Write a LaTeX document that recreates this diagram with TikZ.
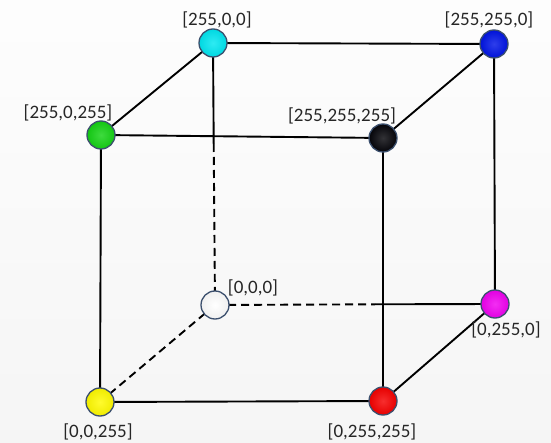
\documentclass[tikz,border=0pt]{standalone}
\usepackage{fontspec}
\setmainfont{Carlito}
\usetikzlibrary{calc}
\definecolor{rimcol}{RGB}{60,80,110}
\definecolor{bgA}{RGB}{252,252,252}
\definecolor{bgB}{RGB}{236,236,236}
\definecolor{cy}{RGB}{0,230,240}
\definecolor{bl}{RGB}{0,20,230}
\definecolor{gr}{RGB}{20,210,20}
\definecolor{bk}{RGB}{5,5,10}
\definecolor{wh}{RGB}{255,255,255}
\definecolor{mg}{RGB}{240,0,240}
\definecolor{ye}{RGB}{255,250,0}
\definecolor{rd}{RGB}{245,0,0}
\tikzset{
  ball/.style={circle,minimum size=28pt,inner sep=0pt,draw=rimcol,line width=1.3pt,
    shading=radial,inner color=#1!82!white,outer color=#1!94!black},
  edge/.style={line width=1.9pt,black},
  hidden/.style={line width=1.9pt,black,dash pattern=on 8pt off 5pt},
  lbl/.style={font=\fontsize{19}{21}\selectfont,text=black!85,inner sep=0pt}
}
\begin{document}
\begin{tikzpicture}[x=1pt,y=-1pt]
\useasboundingbox (0,0) rectangle (551,443);
\shade[left color=bgA,right color=bgB,shading angle=0] (0,0) rectangle (551,443);
\fill[white,opacity=0.5] (0,0) rectangle (551,443);
% coordinates of vertices
\coordinate (pC) at (213,43);
\coordinate (pB) at (494,44);
\coordinate (pG) at (101,135);
\coordinate (pK) at (383,138);
\coordinate (pW) at (215,305);
\coordinate (pM) at (495,304);
\coordinate (pY) at (100,402);
\coordinate (pR) at (383,401);
\coordinate (sC) at (213.7,144);
\coordinate (sM) at (375,304.3);
% edges
\draw[edge] (pC) -- (pB);
\draw[edge] (pC) -- (pG);
\draw[edge] (pB) -- (pK);
\draw[edge] (pG) -- (pK);
\draw[edge] (pB) -- (pM);
\draw[edge] (pG) -- (pY);
\draw[edge] (pK) -- (pR);
\draw[edge] (pY) -- (pR);
\draw[edge] (pR) -- (pM);
\draw[edge] (pC) -- (sC);
\draw[hidden] (sC) -- (pW);
\draw[hidden] (pW) -- (sM);
\draw[edge] (sM) -- (pM);
\draw[hidden] (pW) -- (pY);
% balls
\node[ball=cy] (c) at (pC) {};
\node[ball=bl] (b) at (pB) {};
\node[ball=gr] (g) at (pG) {};
\node[ball=bk] (k) at (pK) {};
\node[ball=wh] (w) at (pW) {};
\node[ball=mg] (m) at (pM) {};
\node[ball=ye] (y) at (pY) {};
\node[ball=rd] (r) at (pR) {};
% labels
\node[lbl] (lc) at (217,20) {[255,0,0]};
\node[lbl] (lb) at (489,20) {[255,255,0]};
\node[lbl] (lg) at (68,113) {[255,0,255]};
\node[lbl] (lk) at (342,116) {[255,255,255]};
\node[lbl] (lw) at (253,288) {[0,0,0]};
\node[lbl] (lm) at (506,330) {[0,255,0]};
\node[lbl] (ly) at (98,432) {[0,0,255]};
\node[lbl] (lr) at (372,432) {[0,255,255]};
\end{tikzpicture}
\end{document}
